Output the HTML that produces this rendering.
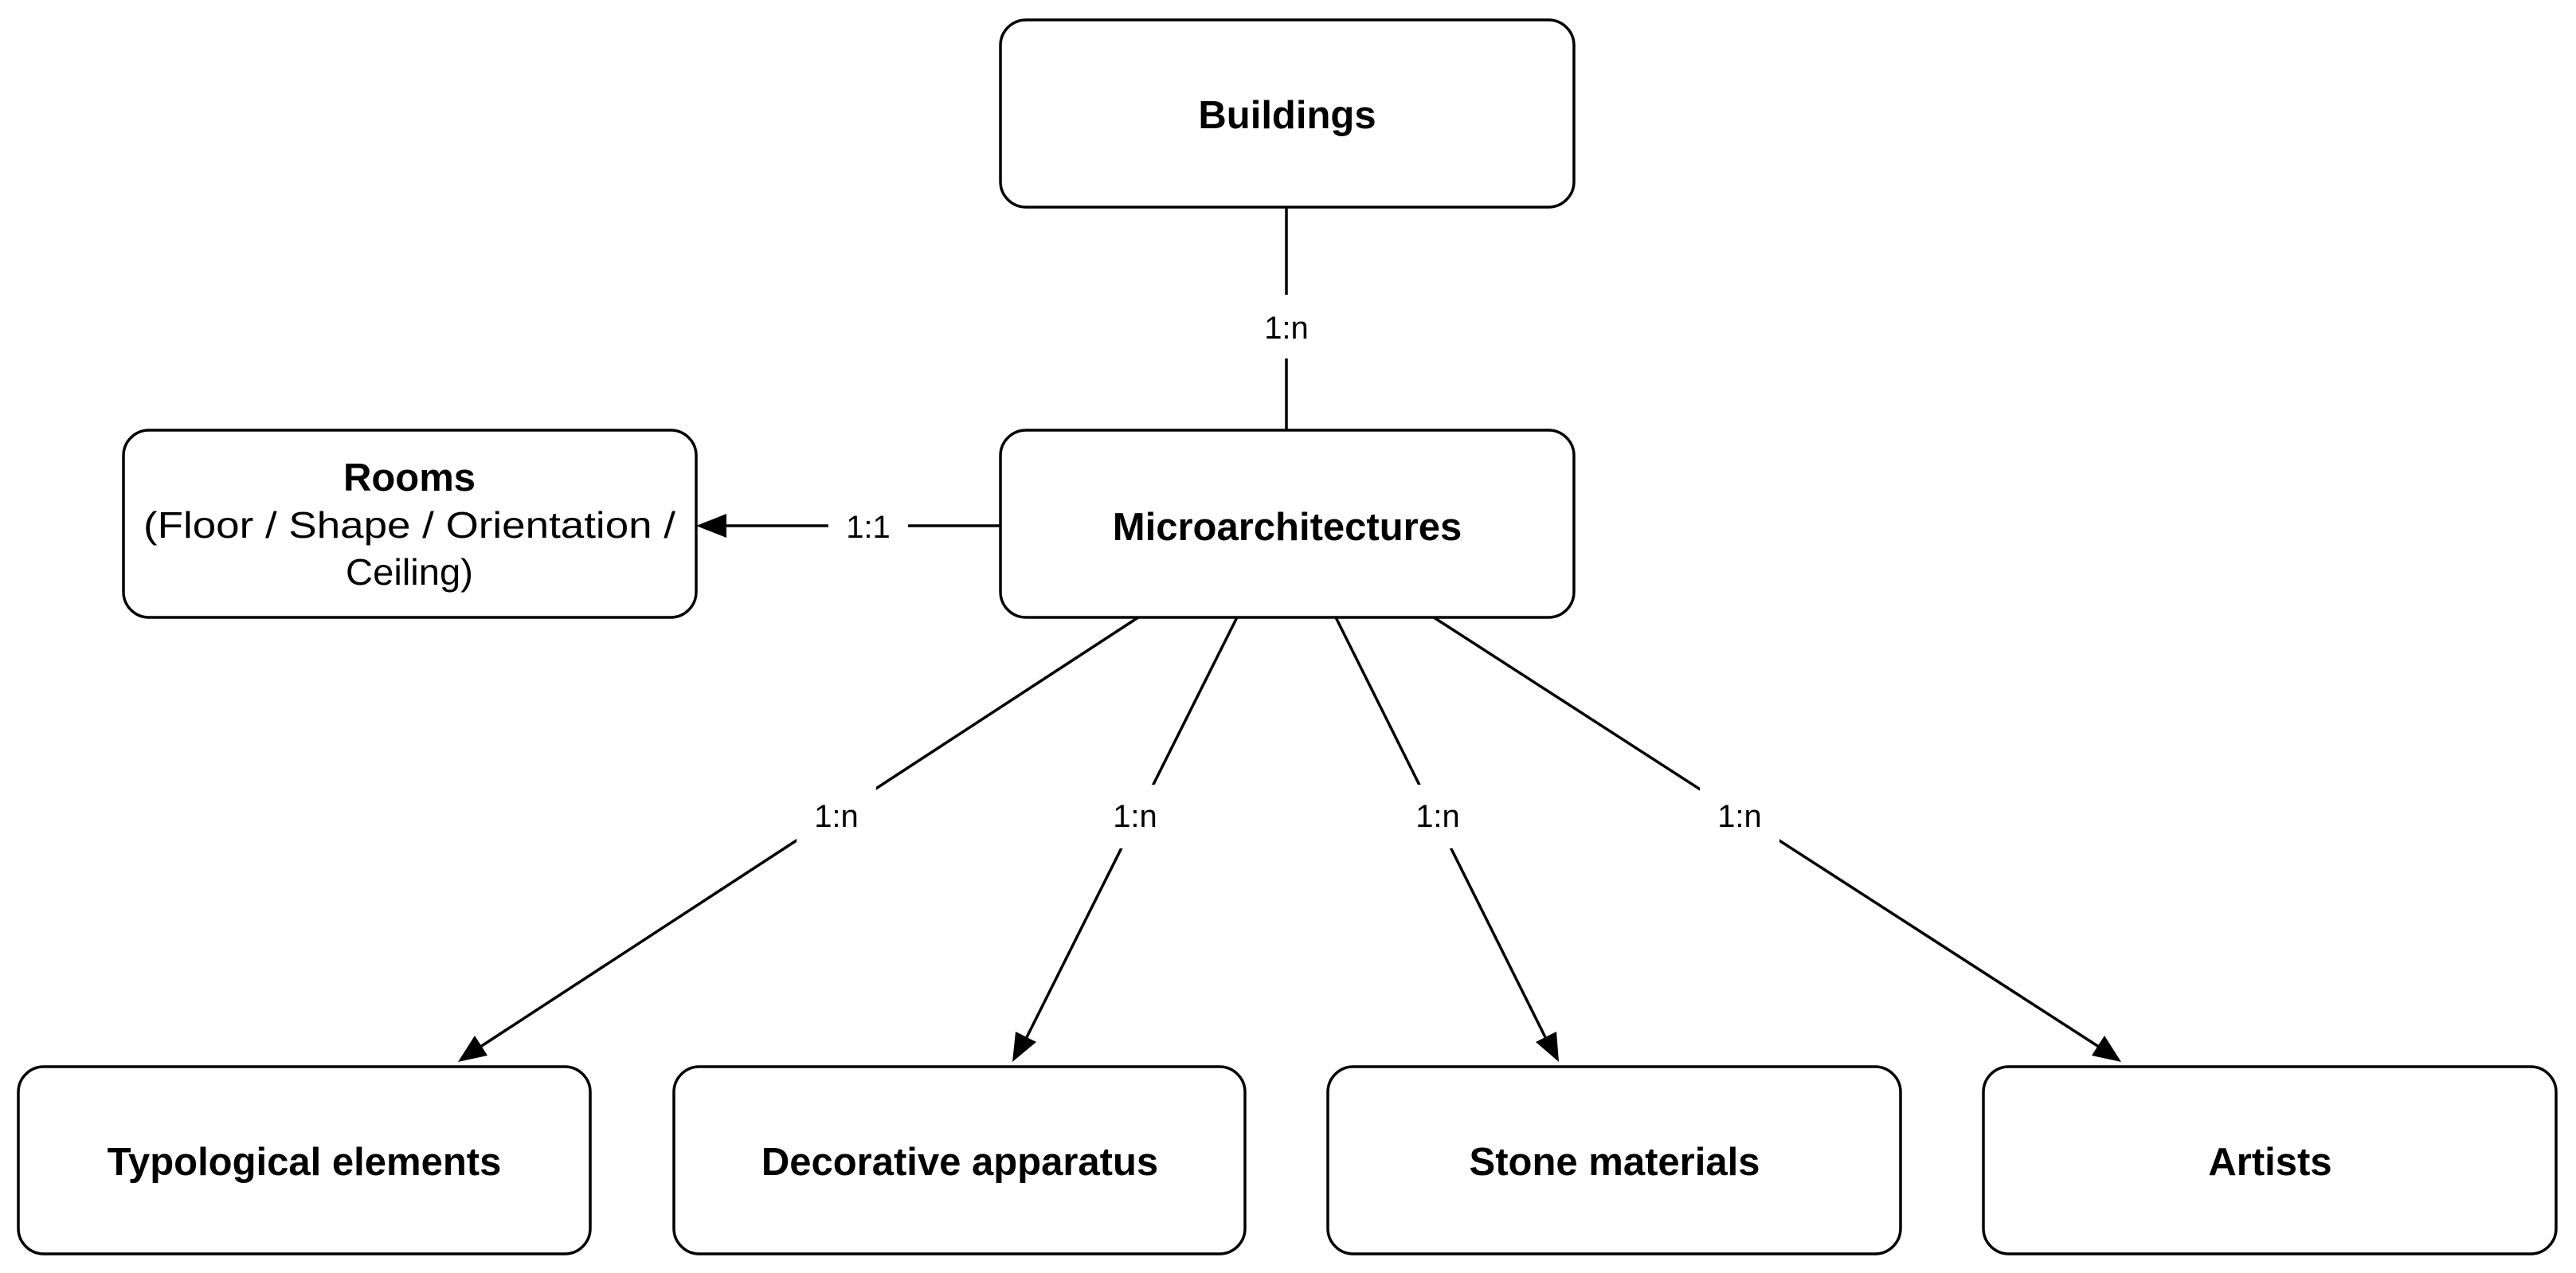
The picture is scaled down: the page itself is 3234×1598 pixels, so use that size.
<!DOCTYPE html>
<html><head><meta charset="utf-8"><style>
html,body{margin:0;padding:0;background:#fff;}
svg{display:block;}
text{font-family:"Liberation Sans",Arial,sans-serif;fill:#000;}
.b{font-weight:bold;font-size:49px;}
.r{font-size:46px;}
.l{font-size:40px;}
</style></head><body>
<svg width="3234" height="1598" viewBox="0 0 3234 1598" xmlns="http://www.w3.org/2000/svg">
<g fill="#fff" stroke="#000" stroke-width="3.5">
<rect x="1256" y="25" width="720" height="235" rx="32"/>
<rect x="1256" y="540" width="720" height="235" rx="32"/>
<rect x="155" y="540" width="719" height="235" rx="32"/>
<rect x="23" y="1339" width="718" height="235" rx="32"/>
<rect x="846" y="1339" width="717" height="235" rx="32"/>
<rect x="1667" y="1339" width="719" height="235" rx="32"/>
<rect x="2490" y="1339" width="719" height="235" rx="32"/>
</g>
<g stroke="#000" stroke-width="3.5" fill="none">
<line x1="1615" y1="260" x2="1615" y2="540"/>
<line x1="1256" y1="660" x2="905" y2="660"/>
<line x1="1429" y1="775" x2="600" y2="1316"/>
<line x1="1553" y1="775" x2="1287" y2="1306"/>
<line x1="1677" y1="775" x2="1942" y2="1306"/>
<line x1="1800" y1="775" x2="2638" y2="1316"/>
</g>
<g fill="#fff" stroke="none">
<rect x="1575" y="370" width="80" height="80"/>
<rect x="1040" y="625" width="100" height="70"/>
<rect x="1000" y="985" width="100" height="80"/>
<rect x="1375" y="985" width="100" height="80"/>
<rect x="1755" y="985" width="100" height="80"/>
<rect x="2134" y="985" width="100" height="80"/>
</g>
<g fill="#000">
<polygon points="874,660 912,645 912,675"/>
<polygon points="575,1333 596,1300 612,1325"/>
<polygon points="1271,1333 1275,1295 1301,1308"/>
<polygon points="1957,1333 1928,1308 1954,1295"/>
<polygon points="2663,1333 2626,1325 2642,1300"/>
</g>
<g text-anchor="middle">
<text class="b" x="1616" y="161">Buildings</text>
<text class="b" x="1616" y="678">Microarchitectures</text>
<text class="b" x="514" y="616">Rooms</text>
<text class="r" x="514" y="675" textLength="668" lengthAdjust="spacingAndGlyphs">(Floor / Shape / Orientation /</text>
<text class="r" x="514" y="734" textLength="160" lengthAdjust="spacingAndGlyphs">Ceiling)</text>
<text class="b" x="382" y="1475">Typological elements</text>
<text class="b" x="1205" y="1475">Decorative apparatus</text>
<text class="b" x="2027" y="1475">Stone materials</text>
<text class="b" x="2850" y="1475">Artists</text>
<text class="l" x="1615" y="425">1:n</text>
<text class="l" x="1090" y="675">1:1</text>
<text class="l" x="1050" y="1038">1:n</text>
<text class="l" x="1425" y="1038">1:n</text>
<text class="l" x="1805" y="1038">1:n</text>
<text class="l" x="2184" y="1038">1:n</text>
</g>
</svg>
</body></html>
